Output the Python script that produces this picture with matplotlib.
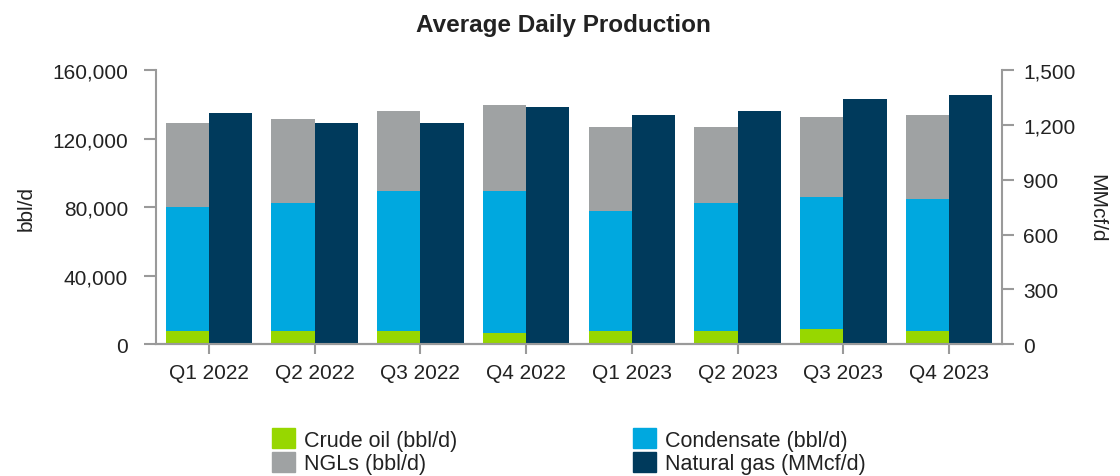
import numpy as np
import matplotlib.pyplot as plt
from matplotlib.patches import Patch
from matplotlib.ticker import FuncFormatter

plt.rcParams['font.family'] = ['Liberation Sans', 'DejaVu Sans']

quarters = ['Q1 2022', 'Q2 2022', 'Q3 2022', 'Q4 2022',
            'Q1 2023', 'Q2 2023', 'Q3 2023', 'Q4 2023']
crude = [7600, 7600, 7600, 6400, 7600, 7600, 8800, 7600]
condensate = [72700, 74800, 81800, 83000, 70100, 74800, 77100, 77100]
ngls = [48900, 49100, 46800, 50300, 49100, 44400, 46800, 49100]
gas = [1266, 1211, 1211, 1299, 1255, 1277, 1342, 1364]

c_crude = '#97D700'
c_cond = '#00A8DF'
c_ngl = '#9FA2A3'
c_gas = '#003A5C'
axis_grey = '#9a9a9a'
txt = '#222222'

fig = plt.figure(figsize=(11.2, 4.77), dpi=100)
ax = fig.add_axes([0.1393, 0.2767, 0.7553, 0.5738])
ax2 = ax.twinx()

x = np.arange(len(quarters))
w = 0.41
ax.bar(x - w, crude, width=w, align='edge', color=c_crude)
ax.bar(x - w, condensate, width=w, align='edge', bottom=crude, color=c_cond)
bot = np.array(crude) + np.array(condensate)
ax.bar(x - w, ngls, width=w, align='edge', bottom=bot, color=c_ngl)
ax2.bar(x, gas, width=w, align='edge', color=c_gas)

ax.set_xlim(-0.5, len(quarters) - 0.5)
ax.set_ylim(0, 160000)
ax2.set_ylim(0, 1500)
ax.set_yticks(np.arange(0, 160001, 40000))
ax2.set_yticks(np.arange(0, 1501, 300))
ax.yaxis.set_major_formatter(FuncFormatter(lambda v, p: f'{int(v):,}'))
ax2.yaxis.set_major_formatter(FuncFormatter(lambda v, p: f'{int(v):,}'))
ax.set_xticks(x)
ax.set_xticklabels(quarters)

for a in (ax, ax2):
    for s in a.spines.values():
        s.set_color(axis_grey)
        s.set_linewidth(1.5)
    a.spines['top'].set_visible(False)
    a.tick_params(colors=axis_grey, labelcolor=txt, labelsize=15, width=1.5)
ax.spines['right'].set_visible(False)
ax2.spines['left'].set_visible(False)
ax.spines['bottom'].set_color('#888888')
ax.tick_params(axis='y', length=8.5, pad=11.5)
ax.tick_params(axis='x', length=7.5, pad=6)
ax2.tick_params(axis='y', length=8.5, pad=7)

ax.set_ylabel('bbl/d', fontsize=15, color=txt, labelpad=12)
ax2.set_ylabel('MMcf/d', fontsize=15, color=txt, rotation=270, labelpad=22)
# title sits a bit left of the axes centre in the original
ax.set_title('Average Daily Production', fontsize=17.5, fontweight='bold',
             color=txt, pad=28, x=0.482)

handles = [Patch(color=c_crude), Patch(color=c_ngl), Patch(color=c_cond), Patch(color=c_gas)]
labels = ['Crude oil (bbl/d)', 'NGLs (bbl/d)', 'Condensate (bbl/d)', 'Natural gas (MMcf/d)']
fig.legend(handles, labels, ncol=2, loc='center', bbox_to_anchor=(0.508, 0.052),
           frameon=False, fontsize=15.5, handlelength=1.05, handleheight=1.05,
           handletextpad=0.4, columnspacing=8.2, labelspacing=0.05,
           labelcolor=txt)

fig.savefig('out.png', dpi=100)
